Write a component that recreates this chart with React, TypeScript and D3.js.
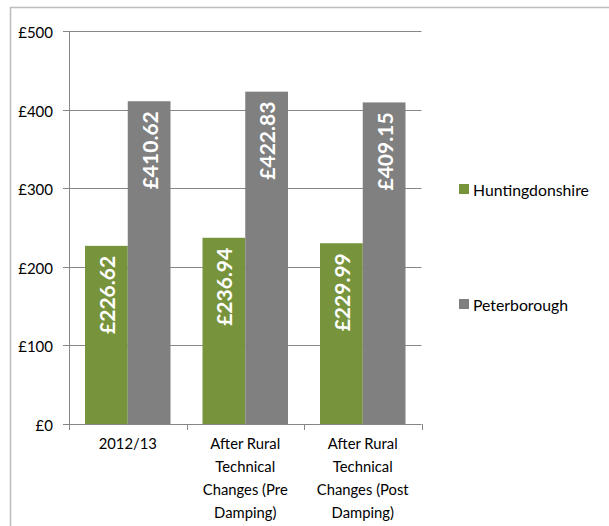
import React from "react";
import * as d3 from "d3";

const categories: string[][] = [
  ["2012/13"],
  ["After Rural", "Technical", "Changes (Pre", "Damping)"],
  ["After Rural", "Technical", "Changes (Post", "Damping)"],
];
const seriesNames = ["Huntingdonshire", "Peterborough"];
const huntingdonshire = [226.62, 236.94, 229.99];
const peterborough = [410.62, 422.83, 409.15];
const yTicks = [0, 100, 200, 300, 400, 500];
const colors = ["#77933C", "#808080"];

const W = 609;
const H = 526;

export default function App() {
  const y = d3.scaleLinear().domain([0, 500]).range([424, 31]);
  const x0 = d3
    .scaleBand<number>()
    .domain(categories.map((_, i) => i))
    .range([69, 421.5])
    .padding(0);
  const bw = x0.bandwidth();
  const x1 = d3
    .scaleBand<number>()
    .domain([0, 1])
    .range([16, bw - 16])
    .padding(0);
  const series = [huntingdonshire, peterborough];
  const font = "Lato, 'Open Sans', sans-serif";
  const gridColor = "#868686";

  return (
    <svg
      width={W}
      height={H}
      style={{ position: "absolute", left: 0, top: 0, fontFamily: font }}
    >
      <rect x={0} y={0} width={W} height={H} fill="#fff" />
      <rect
        x={10.5}
        y={7.5}
        width={W + 20}
        height={H + 20}
        fill="none"
        stroke="#bdbdbd"
        strokeWidth={1.5}
      />
      {yTicks.map((t) => (
        <g key={t}>
          <line
            x1={63}
            x2={421.5}
            y1={Math.round(y(t)) + 0.5}
            y2={Math.round(y(t)) + 0.5}
            stroke={gridColor}
            strokeWidth={1}
          />
          <text
            x={53}
            y={Math.round(y(t)) + 0.5}
            textAnchor="end"
            dominantBaseline="central"
            fontSize={15}
            fill="#000"
          >
            {"£" + t}
          </text>
        </g>
      ))}
      {series.map((vals, si) =>
        vals.map((v, ci) => {
          const bx = (x0(ci) as number) + (x1(si) as number);
          const by = y(v);
          const w = x1.bandwidth();
          const cx = bx + w / 2;
          const ty = by + 10;
          return (
            <g key={si + "-" + ci}>
              <rect
                x={bx}
                y={by}
                width={w}
                height={y(0) - by}
                fill={colors[si]}
              />
              <text
                transform={`translate(${cx},${ty}) rotate(-90)`}
                textAnchor="end"
                dominantBaseline="central"
                fontSize={21}
                fontWeight="bold"
                fill="#fff"
              >
                {"£" + v.toFixed(2)}
              </text>
            </g>
          );
        })
      )}
      <line x1={69.5} x2={69.5} y1={31} y2={424.5} stroke={gridColor} />
      {[0, 1, 2, 3].map((i) => {
        const xx = Math.round(69 + i * bw) + 0.5;
        return (
          <line
            key={i}
            x1={xx}
            x2={xx}
            y1={424}
            y2={430}
            stroke={gridColor}
          />
        );
      })}
      {categories.map((lines, ci) => {
        const cx = (x0(ci) as number) + bw / 2;
        return (
          <text
            key={ci}
            x={cx}
            textAnchor="middle"
            fontSize={14.8}
            fill="#000"
          >
            {lines.map((l, li) => (
              <tspan key={li} x={cx} y={443 + li * 23} dominantBaseline="central">
                {l}
              </tspan>
            ))}
          </text>
        );
      })}
      {seriesNames.map((n, i) => {
        const ly = i === 0 ? 189 : 304;
        return (
          <g key={n}>
            <rect x={459} y={ly - 5} width={10} height={10} fill={colors[i]} />
            <text
              x={473}
              y={ly}
              dominantBaseline="central"
              fontSize={15.8}
              fill="#000"
            >
              {n}
            </text>
          </g>
        );
      })}
    </svg>
  );
}
